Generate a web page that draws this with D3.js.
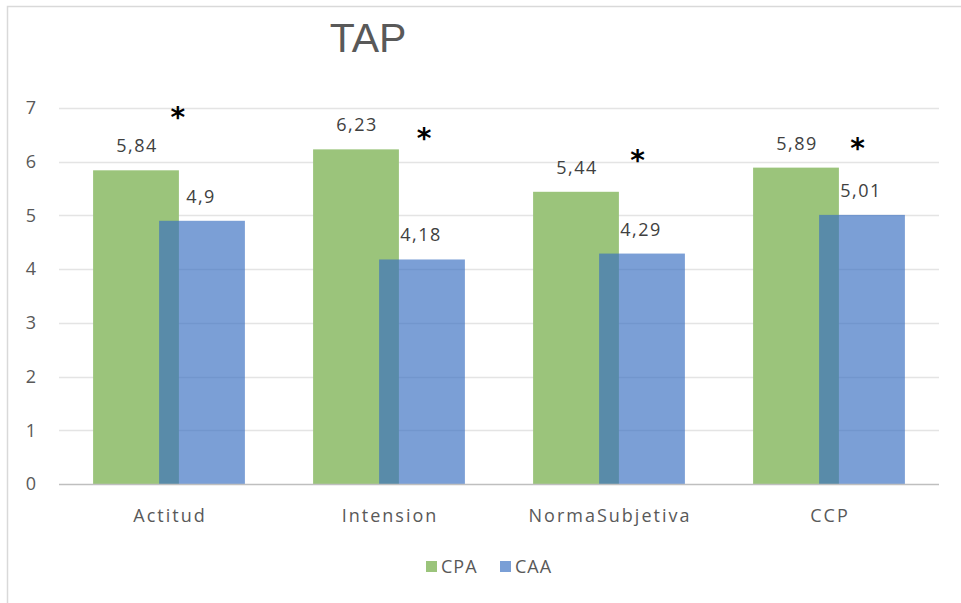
<!DOCTYPE html>
<html>
<head>
<meta charset="utf-8">
<script src="https://cdn.jsdelivr.net/npm/d3@7"></script>
<style>
  body { margin: 0; background: #fff; }
  svg { display: block; }
</style>
</head>
<body>
<div id="chart"></div>
<script>
var categories = ["Actitud", "Intension", "NormaSubjetiva", "CCP"];
var seriesNames = ["CPA", "CAA"];
var cpaValues = [5.84, 6.23, 5.44, 5.89];
var caaValues = [4.9, 4.18, 4.29, 5.01];
var cpaLabels = ["5,84", "6,23", "5,44", "5,89"];
var caaLabels = ["4,9", "4,18", "4,29", "5,01"];
// significance markers: height in value units, horizontal shift as share of the band
var starLevel = [6.93, 6.54, 6.13, 6.35];
var starShift = [0.04, 0.16, 0.13, 0.13];
var yTicks = [0, 1, 2, 3, 4, 5, 6, 7];

var width = 961, height = 603;
var margin = { top: 108, right: 22, bottom: 119, left: 59 };

var svg = d3.select("#chart").append("svg")
    .attr("width", width)
    .attr("height", height);

// chart frame (left and top edges visible)
svg.append("path")
    .attr("d", "M7.5," + height + "V6.5H" + width)
    .style("fill", "none")
    .style("stroke", "#d9d9d9")
    .style("stroke-width", 1.5);

var x = d3.scaleBand()
    .domain(categories)
    .range([margin.left, width - margin.right]);

var y = d3.scaleLinear()
    .domain([0, 7])
    .range([height - margin.bottom, margin.top]);

var step = x.step();
var barW = step * 0.39;
var off = step * 0.15;

// grid
svg.append("g")
    .selectAll("line")
    .data(yTicks.filter(function (d) { return d > 0; }))
    .enter().append("line")
    .attr("x1", margin.left)
    .attr("x2", width - margin.right)
    .attr("y1", function (d) { return Math.round(y(d)) + 0.5; })
    .attr("y2", function (d) { return Math.round(y(d)) + 0.5; })
    .style("stroke", "#e4e4e4")
    .style("stroke-width", 1.5);

// y tick labels
var yAxis = svg.append("g")
    .attr("transform", "translate(" + (margin.left - 22) + ",0)")
    .call(d3.axisLeft(y).tickValues(yTicks).tickFormat(d3.format("d")).tickSize(0).tickPadding(0));
yAxis.select(".domain").remove();
yAxis.selectAll("text")
    .style("font-family", "'Open Sans', sans-serif")
    .style("font-size", "18px")
    .style("fill", "#595959")
    .attr("text-anchor", "middle")
    .attr("dx", "-6");

// bars
var g = svg.append("g");
function center(c) { return x(c) + step / 2; }

g.selectAll(".cpa")
    .data(categories)
    .enter().append("rect")
    .attr("class", "cpa")
    .attr("x", function (d) { return center(d) - off - barW / 2; })
    .attr("width", barW)
    .attr("y", function (d, i) { return y(cpaValues[i]); })
    .attr("height", function (d, i) { return y(0) - y(cpaValues[i]); })
    .style("fill", "#9bc47b");

g.selectAll(".caa")
    .data(categories)
    .enter().append("rect")
    .attr("class", "caa")
    .attr("x", function (d) { return center(d) + off - barW / 2; })
    .attr("width", barW)
    .attr("y", function (d, i) { return y(caaValues[i]); })
    .attr("height", function (d, i) { return y(0) - y(caaValues[i]); })
    .style("fill", "#366ec1")
    .style("fill-opacity", 0.66);

// baseline
svg.append("line")
    .attr("x1", margin.left)
    .attr("x2", width - margin.right)
    .attr("y1", Math.round(y(0)) + 0.5)
    .attr("y2", Math.round(y(0)) + 0.5)
    .style("stroke", "#bfbfbf")
    .style("stroke-width", 1.5);

// value labels
var labelStyle = function (sel) {
    sel.style("font-family", "'Open Sans', sans-serif")
        .style("font-size", "18px")
        .style("letter-spacing", "1.5px")
        .style("fill", "#404040")
        .attr("text-anchor", "middle");
};
g.selectAll(".cpaLabel")
    .data(categories)
    .enter().append("text")
    .attr("x", function (d) { return center(d) - off + 1; })
    .attr("y", function (d, i) { return y(cpaValues[i]) - 18; })
    .text(function (d, i) { return cpaLabels[i]; })
    .call(labelStyle);
g.selectAll(".caaLabel")
    .data(categories)
    .enter().append("text")
    .attr("x", function (d) { return center(d) + off - 1; })
    .attr("y", function (d, i) { return y(caaValues[i]) - 18; })
    .text(function (d, i) { return caaLabels[i]; })
    .call(labelStyle);

// asterisks
g.selectAll(".star")
    .data(categories)
    .enter().append("text")
    .attr("x", function (d, i) { return center(d) + starShift[i] * step; })
    .attr("y", function (d, i) { return y(starLevel[i]) + 15; })
    .attr("text-anchor", "middle")
    .style("font-family", "'DejaVu Sans', sans-serif")
    .style("font-size", "28px")
    .style("font-weight", "bold")
    .style("fill", "#000")
    .text("*");

// category labels
g.selectAll(".cat")
    .data(categories)
    .enter().append("text")
    .attr("x", function (d) { return center(d) + 1; })
    .attr("y", y(0) + 38)
    .attr("text-anchor", "middle")
    .style("font-family", "'Open Sans', sans-serif")
    .style("font-size", "18px")
    .style("letter-spacing", "2px")
    .style("fill", "#595959")
    .text(function (d) { return d; });

// title
svg.append("text")
    .attr("x", 368)
    .attr("y", 52)
    .attr("text-anchor", "middle")
    .style("font-family", "'Liberation Sans', Arial, sans-serif")
    .style("font-size", "41px")
    .style("fill", "#595959")
    .text("TAP");

// legend
var legendColors = ["#9bc47b", "#7a9fd6"];
var legend = svg.append("g")
    .selectAll("g")
    .data(seriesNames)
    .enter().append("g")
    .attr("transform", function (d, i) { return "translate(" + (426 + i * 74) + ",561)"; });
legend.append("rect")
    .attr("width", 11)
    .attr("height", 11)
    .style("fill", function (d, i) { return legendColors[i]; });
legend.append("text")
    .attr("x", 15)
    .attr("y", 12)
    .style("font-family", "'Open Sans', sans-serif")
    .style("font-size", "18px")
    .style("letter-spacing", "1px")
    .style("fill", "#595959")
    .text(function (d) { return d; });
</script>
</body>
</html>
